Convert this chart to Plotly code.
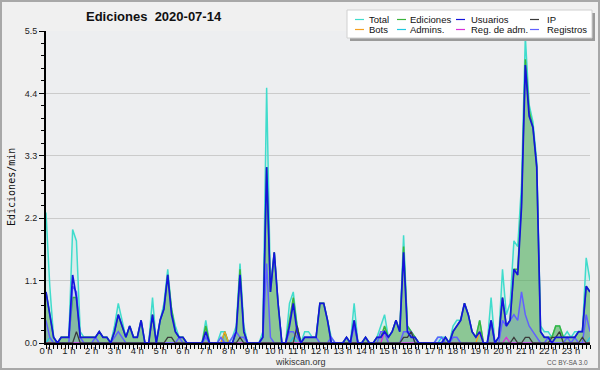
import plotly.graph_objects as go

# ---- data (10-minute bins, edits per minute) ----
hours = [f"{h} h" for h in range(24)]
minutes = [10 * i for i in range(144)]

total = [
    2.3, 1.0, 0.1, 0.0, 0.1, 0.1,
    0.1, 2.0, 1.8, 0.2, 0.1, 0.1,
    0.1, 0.1, 0.2, 0.1, 0.1, 0.0,
    0.3, 0.7, 0.4, 0.1, 0.3, 0.1,
    0.1, 0.4, 0.0, 0.0, 0.8, 0.0,
    0.4, 0.7, 1.3, 0.6, 0.3, 0.1,
    0.1, 0.0, 0.0, 0.0, 0.0, 0.0,
    0.4, 0.0, 0.0, 0.0, 0.2, 0.2,
    0.0, 0.1, 0.3, 1.4, 0.3, 0.0,
    0.0, 0.0, 0.0, 0.2, 4.5, 1.0,
    1.6, 0.7, 0.0, 0.0, 0.7, 0.9,
    0.3, 0.0, 0.2, 0.2, 0.1, 0.1,
    0.7, 0.7, 0.4, 0.1, 0.0, 0.0,
    0.0, 0.1, 0.0, 0.7, 0.0, 0.0,
    0.1, 0.0, 0.0, 0.1, 0.3, 0.5,
    0.1, 0.2, 0.4, 0.2, 1.9, 0.3,
    0.2, 0.1, 0.0, 0.0, 0.0, 0.0,
    0.0, 0.1, 0.1, 0.1, 0.0, 0.3,
    0.4, 0.4, 0.7, 0.5, 0.2, 0.1,
    0.4, 0.0, 0.0, 0.8, 0.0, 0.1,
    1.3, 0.5, 0.7, 1.8, 1.7, 2.8,
    5.4, 4.2, 3.9, 3.2, 0.3, 0.2,
    0.2, 0.1, 0.3, 0.3, 0.1, 0.2,
    0.1, 0.2, 0.2, 0.2, 1.5, 1.1,
]

ediciones = [
    0.9, 0.5, 0.1, 0.0, 0.1, 0.1,
    0.1, 0.8, 0.8, 0.1, 0.1, 0.1,
    0.1, 0.1, 0.2, 0.1, 0.1, 0.0,
    0.2, 0.5, 0.3, 0.1, 0.3, 0.1,
    0.1, 0.4, 0.0, 0.0, 0.5, 0.0,
    0.4, 0.6, 1.2, 0.6, 0.2, 0.1,
    0.1, 0.0, 0.0, 0.0, 0.0, 0.0,
    0.3, 0.0, 0.0, 0.0, 0.0, 0.2,
    0.0, 0.0, 0.2, 1.3, 0.2, 0.0,
    0.0, 0.0, 0.0, 0.1, 3.1, 0.9,
    1.6, 0.7, 0.0, 0.0, 0.4, 0.8,
    0.3, 0.0, 0.1, 0.1, 0.1, 0.1,
    0.7, 0.7, 0.4, 0.0, 0.0, 0.0,
    0.0, 0.1, 0.0, 0.4, 0.0, 0.0,
    0.1, 0.0, 0.0, 0.1, 0.1, 0.3,
    0.1, 0.2, 0.4, 0.2, 1.7, 0.3,
    0.2, 0.1, 0.0, 0.0, 0.0, 0.0,
    0.0, 0.0, 0.0, 0.1, 0.0, 0.2,
    0.3, 0.4, 0.7, 0.5, 0.2, 0.1,
    0.4, 0.0, 0.0, 0.4, 0.0, 0.1,
    0.8, 0.3, 0.4, 1.3, 1.3, 2.5,
    5.0, 4.1, 3.8, 3.1, 0.2, 0.1,
    0.1, 0.1, 0.3, 0.3, 0.1, 0.1,
    0.1, 0.1, 0.2, 0.2, 1.0, 0.9,
]

usuarios = [
    0.9, 0.5, 0.1, 0.0, 0.1, 0.1,
    0.1, 1.2, 0.8, 0.1, 0.1, 0.1,
    0.1, 0.1, 0.2, 0.1, 0.1, 0.0,
    0.2, 0.5, 0.3, 0.1, 0.3, 0.1,
    0.1, 0.4, 0.0, 0.0, 0.5, 0.0,
    0.4, 0.6, 1.2, 0.5, 0.2, 0.1,
    0.1, 0.0, 0.0, 0.0, 0.0, 0.0,
    0.2, 0.0, 0.0, 0.0, 0.0, 0.0,
    0.0, 0.0, 0.2, 1.2, 0.2, 0.0,
    0.0, 0.0, 0.0, 0.1, 3.1, 0.9,
    1.6, 0.7, 0.0, 0.0, 0.3, 0.7,
    0.2, 0.0, 0.1, 0.1, 0.1, 0.1,
    0.7, 0.7, 0.4, 0.0, 0.0, 0.0,
    0.0, 0.1, 0.0, 0.4, 0.0, 0.0,
    0.1, 0.0, 0.0, 0.1, 0.1, 0.2,
    0.1, 0.2, 0.4, 0.2, 1.6, 0.2,
    0.1, 0.1, 0.0, 0.0, 0.0, 0.0,
    0.0, 0.0, 0.0, 0.1, 0.0, 0.2,
    0.3, 0.4, 0.7, 0.5, 0.2, 0.1,
    0.2, 0.0, 0.0, 0.4, 0.0, 0.1,
    0.8, 0.3, 0.4, 1.3, 1.2, 2.4,
    4.9, 4.0, 3.8, 3.1, 0.2, 0.1,
    0.1, 0.0, 0.1, 0.1, 0.1, 0.1,
    0.1, 0.1, 0.2, 0.2, 1.0, 0.9,
]

ip = [
    0, 0, 0, 0, 0, 0,
    0, 0, 0.2, 0, 0, 0,
    0, 0, 0, 0, 0, 0,
    0, 0, 0, 0, 0, 0,
    0, 0, 0, 0, 0, 0,
    0, 0, 0.1, 0.1, 0, 0,
    0, 0, 0, 0, 0, 0,
    0, 0, 0, 0, 0, 0,
    0, 0, 0, 0.1, 0, 0,
    0, 0, 0, 0, 0, 0,
    0, 0, 0, 0, 0, 0,
    0.3, 0, 0, 0, 0, 0,
    0, 0, 0, 0, 0, 0,
    0, 0, 0, 0, 0, 0,
    0, 0, 0, 0, 0, 0,
    0, 0, 0, 0, 0.1, 0.1,
    0.2, 0, 0, 0, 0, 0,
    0, 0, 0, 0, 0, 0,
    0, 0, 0, 0, 0, 0,
    0, 0, 0, 0, 0, 0,
    0, 0, 0, 0.1, 0, 0,
    0.1, 0.1, 0, 0, 0, 0,
    0, 0.1, 0.1, 0.2, 0, 0,
    0, 0, 0, 0.1, 0, 0,
]

bots = [0.0] * 144
bots[47] = 0.2
bots[114] = 0.2

admins = [0.0] * 144
for _i, _v in [(1, 0.1), (42, 0.1), (65, 0.1), (104, 0.1), (143, 0.1)]:
    admins[_i] = _v

reg_adm = [0.0] * 144
reg_adm[89] = 0.2
reg_adm[121] = 0.1

registros = [
    0.4, 0.1, 0, 0, 0, 0,
    0, 1.0, 0.9, 0.1, 0, 0,
    0, 0.1, 0, 0, 0, 0,
    0.1, 0.2, 0.1, 0, 0, 0,
    0, 0, 0, 0, 0, 0,
    0, 0, 0, 0, 0, 0.1,
    0, 0, 0, 0, 0, 0,
    0.1, 0, 0, 0, 0.1, 0,
    0, 0.1, 0.2, 0.1, 0.1, 0,
    0, 0, 0, 0.1, 1.4, 0.1,
    0, 0, 0, 0, 0.2, 0.2,
    0.1, 0, 0.1, 0.1, 0.1, 0.1,
    0, 0, 0, 0.1, 0, 0,
    0, 0, 0, 0.3, 0, 0,
    0, 0, 0, 0, 0.2, 0.2,
    0, 0, 0, 0, 0.2, 0.2,
    0.2, 0, 0, 0, 0, 0,
    0, 0.1, 0.1, 0, 0, 0.1,
    0.1, 0, 0, 0, 0, 0,
    0, 0, 0, 0.4, 0, 0,
    0.4, 0.3, 0.4, 0.5, 0.4, 0.9,
    0.5, 0.3, 0.2, 0.1, 0, 0,
    0.1, 0, 0, 0, 0, 0.1,
    0, 0.1, 0, 0, 0.5, 0.2,
]

legend_names = ["Total", "Ediciones", "Usuarios", "IP",
                "Bots", "Admins.", "Reg. de adm.", "Registros"]
colors = {
    "Total": "#40dccc", "Ediciones": "#3cb43c", "Usuarios": "#1414dc",
    "IP": "#3a3a3a", "Bots": "#f5a020", "Admins.": "#20c8e0",
    "Reg. de adm.": "#d830d8", "Registros": "#6060ff",
}

# ---- geometry helpers (pixel -> paper) ----
W, H = 600, 370
ML, MR, MT, MB = 46, 10, 31, 27
PW, PH = W - ML - MR, H - MT - MB
FONT = "Liberation Sans"


def px(x):
    return (x - ML) / PW


def py(y):
    return (H - MB - y) / PH


fig = go.Figure()

# filled areas
fig.add_trace(go.Scatter(x=minutes, y=total, mode="lines", fill="tozeroy",
                         fillcolor="rgba(64,224,208,0.12)", line=dict(width=0),
                         hoverinfo="skip", showlegend=False))
fig.add_trace(go.Scatter(x=minutes, y=ediciones, mode="lines", fill="tozeroy",
                         fillcolor="rgba(70,165,70,0.52)", line=dict(width=0),
                         hoverinfo="skip", showlegend=False))
fig.add_trace(go.Scatter(x=minutes, y=registros, mode="lines", fill="tozeroy",
                         fillcolor="rgba(90,90,255,0.14)", line=dict(width=0),
                         hoverinfo="skip", showlegend=False))

# lines
line_order = [("Total", total, 1.5), ("Ediciones", ediciones, 1.5),
              ("Bots", bots, 1.3), ("Admins.", admins, 1.3),
              ("Reg. de adm.", reg_adm, 1.3), ("Registros", registros, 1.5),
              ("IP", ip, 1.3), ("Usuarios", usuarios, 1.7)]
for name, vals, w in line_order:
    fig.add_trace(go.Scatter(x=minutes, y=vals, mode="lines", name=name,
                             line=dict(color=colors[name], width=w),
                             showlegend=False))

shapes = []
annotations = []

# outer image border
shapes.append(dict(type="rect", xref="paper", yref="paper",
                   x0=px(1), x1=px(599), y0=py(369), y1=py(1),
                   line=dict(color="#a8a8a8", width=2), layer="below"))

# legend box (shadow + white box)
shapes.append(dict(type="rect", xref="paper", yref="paper",
                   x0=px(350), x1=px(595), y0=py(41), y1=py(13),
                   fillcolor="#9a9a9a", line=dict(width=0), layer="above"))
shapes.append(dict(type="rect", xref="paper", yref="paper",
                   x0=px(347), x1=px(592), y0=py(38), y1=py(10),
                   fillcolor="#ffffff", line=dict(color="#d0d0d0", width=1),
                   layer="above"))
col_line_x = [355, 397, 456, 530]
col_text_x = [367, 408, 469, 545]
row_y = [19.5, 29.5]
for k, name in enumerate(legend_names):
    r, c = divmod(k, 4)
    yy = row_y[r]
    shapes.append(dict(type="line", xref="paper", yref="paper",
                       x0=px(col_line_x[c]), x1=px(col_line_x[c] + 9),
                       y0=py(yy), y1=py(yy),
                       line=dict(color=colors[name], width=1.2), layer="above"))
    annotations.append(dict(text=name, xref="paper", yref="paper",
                            x=px(col_text_x[c]), y=py(yy), xanchor="left",
                            yanchor="middle", showarrow=False,
                            font=dict(family=FONT, size=9.5, color="#111")))

# title
annotations.append(dict(text="<b>Ediciones  2020-07-14</b>", xref="paper", yref="paper",
                        x=px(154), y=py(17), xanchor="center", yanchor="middle",
                        showarrow=False,
                        font=dict(family=FONT, size=13, color="#111")))
# y axis title
annotations.append(dict(text="Ediciones/min", xref="paper", yref="paper",
                        x=px(11), y=py(187), xanchor="center", yanchor="middle",
                        textangle=-90, showarrow=False,
                        font=dict(family="DejaVu Sans Mono", size=10, color="#111")))
# footer
annotations.append(dict(text="wikiscan.org", xref="paper", yref="paper",
                        x=px(300), y=py(361.5), xanchor="center", yanchor="middle",
                        showarrow=False,
                        font=dict(family=FONT, size=9, color="#333")))
annotations.append(dict(text="CC BY-SA 3.0", xref="paper", yref="paper",
                        x=px(590), y=py(362.5), xanchor="right", yanchor="middle",
                        showarrow=False,
                        font=dict(family=FONT, size=6.5, color="#555")))

fig.update_layout(
    width=W, height=H,
    margin=dict(l=ML, r=MR, t=MT, b=MB, pad=0),
    paper_bgcolor="#f0f0f0", plot_bgcolor="#edeef0",
    showlegend=False,
    shapes=shapes, annotations=annotations,
    xaxis=dict(range=[0, 1430], tickmode="array",
               tickvals=[60 * h for h in range(24)], ticktext=hours,
               showgrid=False, zeroline=False, showline=True,
               linecolor="black", linewidth=2, ticks="outside",
               ticklen=4, tickwidth=1, tickcolor="black",
               ticklabelstandoff=-6,
               tickfont=dict(family=FONT, size=9.5, color="#222"),
               minor=dict(dtick=10, tick0=0, ticks="outside", ticklen=4,
                          tickwidth=1, tickcolor="black", showgrid=False),
               fixedrange=True),
    yaxis=dict(range=[0, 5.5], tickmode="array",
               tickvals=[0, 1.1, 2.2, 3.3, 4.4, 5.5],
               ticktext=["0.0", "1.1", "2.2", "3.3", "4.4", "5.5"],
               showgrid=True, gridcolor="#cbcbcb", gridwidth=1,
               zeroline=False, showline=True, linecolor="black", linewidth=2,
               ticks="outside", ticklen=5, tickwidth=1, tickcolor="black",
               tickfont=dict(family=FONT, size=9, color="#222"),
               minor=dict(dtick=0.22, tick0=0, ticks="outside", ticklen=3,
                          tickwidth=1, tickcolor="black", showgrid=False),
               fixedrange=True),
)

fig.write_html("out.html",
               config={"displayModeBar": False, "staticPlot": True},
               post_script="document.body.style.margin='0px';"
                           "document.body.style.overflow='hidden';")
